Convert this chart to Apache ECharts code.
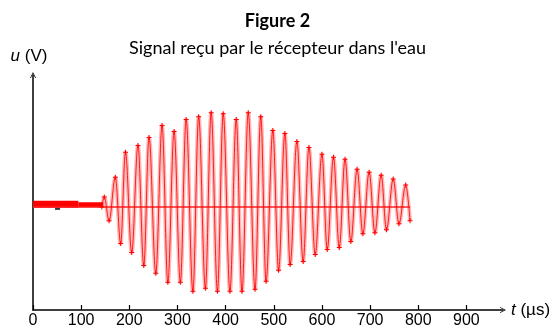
<!DOCTYPE html>
<html>
<head>
<meta charset="utf-8">
<script src="https://cdn.jsdelivr.net/npm/echarts@6/dist/echarts.min.js"></script>
<style>
  html, body { margin: 0; padding: 0; background: #fff; }
  #chart { width: 555px; height: 329px; }
</style>
</head>
<body>
<div id="chart"></div>
<script>
// x tick labels (µs)
const tickValues = [0, 100, 200, 300, 400, 500, 600, 700, 800, 900];

// signal extrema: time (µs) and voltage (arbitrary units)
const signalTimes = [
  143, 148, 158, 171, 182, 192, 205, 218, 230, 241, 255, 268, 280, 293, 306,
  318, 332, 344, 358, 370, 383, 395, 409, 422, 434, 447, 461, 473, 484, 498,
  510, 523, 534, 548, 561, 573, 586, 600, 611, 624, 636, 648, 660, 673, 685,
  698, 710, 723, 734, 748, 760, 774, 783
];
const signalValues = [
  0, 0.10, -0.14, 0.30, -0.37, 0.55, -0.46, 0.62, -0.59, 0.70, -0.67, 0.82, -0.76, 0.76, -0.76,
  0.88, -0.85, 0.91, -0.82, 0.95, -0.85, 0.94, -0.85, 0.88, -0.85, 0.95, -0.83, 0.91, -0.75, 0.77,
  -0.64, 0.74, -0.58, 0.66, -0.55, 0.60, -0.48, 0.53, -0.43, 0.50, -0.41, 0.48, -0.35, 0.38, -0.27,
  0.35, -0.26, 0.32, -0.23, 0.28, -0.17, 0.22, -0.14
];

// noise band before the signal arrives
const noiseThickTimes = [0, 94];
const noiseThickLevel = 0.027;
const noiseThinTimes = [94, 146];
const noiseThinLevel = 0.022;

// horizontal zero trace
const zeroTimes = [0, 783];

// small black cursor mark
const cursorMark = [51, -0.02];

const pair = (ts, v) => ts.map(t => [t, v]);
const signalData = signalTimes.map((t, i) => [t, signalValues[i]]);

const chevron = 'path://M0,10 L5,0 L10,10 L8.6,10 L5,2.6 L1.4,10 Z';
const plus = 'path://M4,0 H6 V4 H10 V6 H6 V10 H4 V6 H0 V4 H4 Z';

const chart = echarts.init(document.getElementById('chart'));
chart.setOption({
  animation: false,
  title: {
    text: 'Figure 2',
    subtext: "Signal reçu par le récepteur dans l'eau",
    left: 'center',
    top: 12,
    padding: 0,
    itemGap: 9,
    textStyle: { fontFamily: 'Lato', fontWeight: 'bold', fontSize: 18, color: '#000' },
    subtextStyle: { fontFamily: 'Lato', fontSize: 18, color: '#000' }
  },
  grid: { left: 33, right: 52, top: 75, bottom: 17, containLabel: false },
  xAxis: {
    type: 'value',
    min: 0,
    max: 976,
    interval: 100,
    name: '{i|t} (µs)',
    nameLocation: 'end',
    nameGap: 8,
    nameTextStyle: {
      fontFamily: 'Liberation Sans', fontSize: 17, color: '#000',
      rich: { i: { fontStyle: 'italic', fontFamily: 'Liberation Sans', fontSize: 17, color: '#000' } }
    },
    axisLine: {
      onZero: false,
      lineStyle: { color: '#000', width: 1.5 },
      symbol: ['none', chevron],
      symbolSize: [8, 6]
    },
    axisTick: { inside: true, length: 5, lineStyle: { color: '#000', width: 1.2 }, customValues: tickValues },
    axisLabel: { fontFamily: 'Liberation Sans', fontSize: 16, color: '#000', margin: 3, customValues: tickValues },
    splitLine: { show: false }
  },
  yAxis: {
    type: 'value',
    min: -1.04,
    max: 1.33,
    name: '{i|u} (V)',
    nameLocation: 'end',
    nameGap: 10,
    nameTextStyle: {
      fontFamily: 'Liberation Sans', fontSize: 17, color: '#000', align: 'center', padding: [0, 8, 0, 0],
      rich: { i: { fontStyle: 'italic', fontFamily: 'Liberation Sans', fontSize: 17, color: '#000' } }
    },
    axisLine: {
      onZero: false,
      lineStyle: { color: '#000', width: 1.5 },
      symbol: ['none', chevron],
      symbolSize: [8, 6]
    },
    axisTick: { show: false },
    axisLabel: { show: false },
    splitLine: { show: false }
  },
  series: [
    {
      type: 'line',
      data: pair(noiseThickTimes, noiseThickLevel),
      showSymbol: false,
      lineStyle: { color: '#ff0000', width: 7, cap: 'butt' },
      z: 2
    },
    {
      type: 'line',
      data: pair(noiseThinTimes, noiseThinLevel),
      showSymbol: false,
      lineStyle: { color: '#ff0000', width: 5, cap: 'butt' },
      z: 2
    },
    {
      type: 'line',
      data: pair(zeroTimes, 0),
      showSymbol: false,
      lineStyle: { color: '#ff2020', width: 1.5 },
      z: 3
    },
    {
      type: 'line',
      data: signalData,
      smooth: 0.36,
      smoothMonotone: 'x',
      showSymbol: false,
      lineStyle: { color: 'rgba(255,0,0,0.28)', width: 4 },
      z: 2
    },
    {
      type: 'line',
      data: signalData,
      smooth: 0.36,
      smoothMonotone: 'x',
      symbol: plus,
      symbolSize: 5,
      showSymbol: true,
      itemStyle: { color: '#ff0000' },
      lineStyle: { color: 'rgba(255,0,0,0.85)', width: 1 },
      z: 4
    },
    {
      type: 'scatter',
      data: [cursorMark],
      symbol: 'rect',
      symbolSize: [5, 2],
      itemStyle: { color: '#000' },
      z: 5
    }
  ]
});
</script>
</body>
</html>
